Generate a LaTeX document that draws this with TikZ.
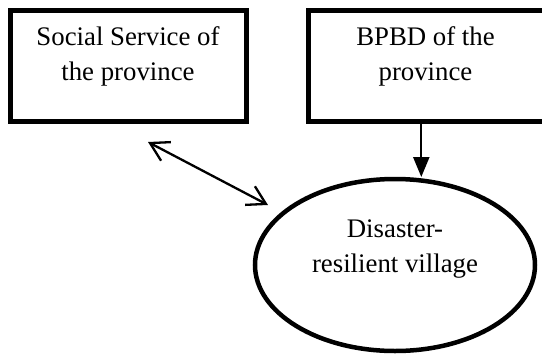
\documentclass[tikz,border=0pt]{standalone}
\usepackage{fontspec}
\setmainfont{Liberation Serif}
\usetikzlibrary{shapes.geometric,arrows.meta}
\tikzset{
  boxshape/.style={draw, line width=5pt, rectangle, inner sep=0pt},
  ellshape/.style={draw, line width=4.5pt, ellipse, inner sep=0pt, minimum width=280pt, minimum height=172pt},
  lbl/.style={align=center, inner sep=0pt, font=\fontsize{26.8pt}{35pt}\selectfont},
  conn/.style={line width=2.3pt},
}
\begin{document}
\begin{tikzpicture}[x=1pt,y=-1pt]
\useasboundingbox (0,0) rectangle (542,354);
\clip (0,0) rectangle (542,354);
\fill[white] (0,0) rectangle (542,354);
% boxes
\node[boxshape, minimum width=236pt, minimum height=111pt] (ss) at (128,65.5) {};
\node[lbl] (sstext) at (128,56) {Social Service of\\the province};
\node[boxshape, minimum width=252pt, minimum height=111pt] (bp) at (434,65.5) {};
\node[lbl] (bptext) at (425.5,56) {BPBD of the\\province};
% ellipse
\node[ellshape] (dv) at (395,265) {};
\node[lbl] (dvtext) at (395,249.5) {Disaster-\\resilient village};
% connector end points
\coordinate (vtip) at (421.3,177);
\coordinate (da) at (148,142);
\coordinate (db) at (268,205);
\draw[conn, -{Triangle[length=20pt,width=16pt]}] (bp.south -| vtip) -- (vtip);
\draw[conn, {Straight Barb[length=18pt,width=21pt]}-{Straight Barb[length=18pt,width=21pt]}] (da) -- (db);
\end{tikzpicture}
\end{document}
